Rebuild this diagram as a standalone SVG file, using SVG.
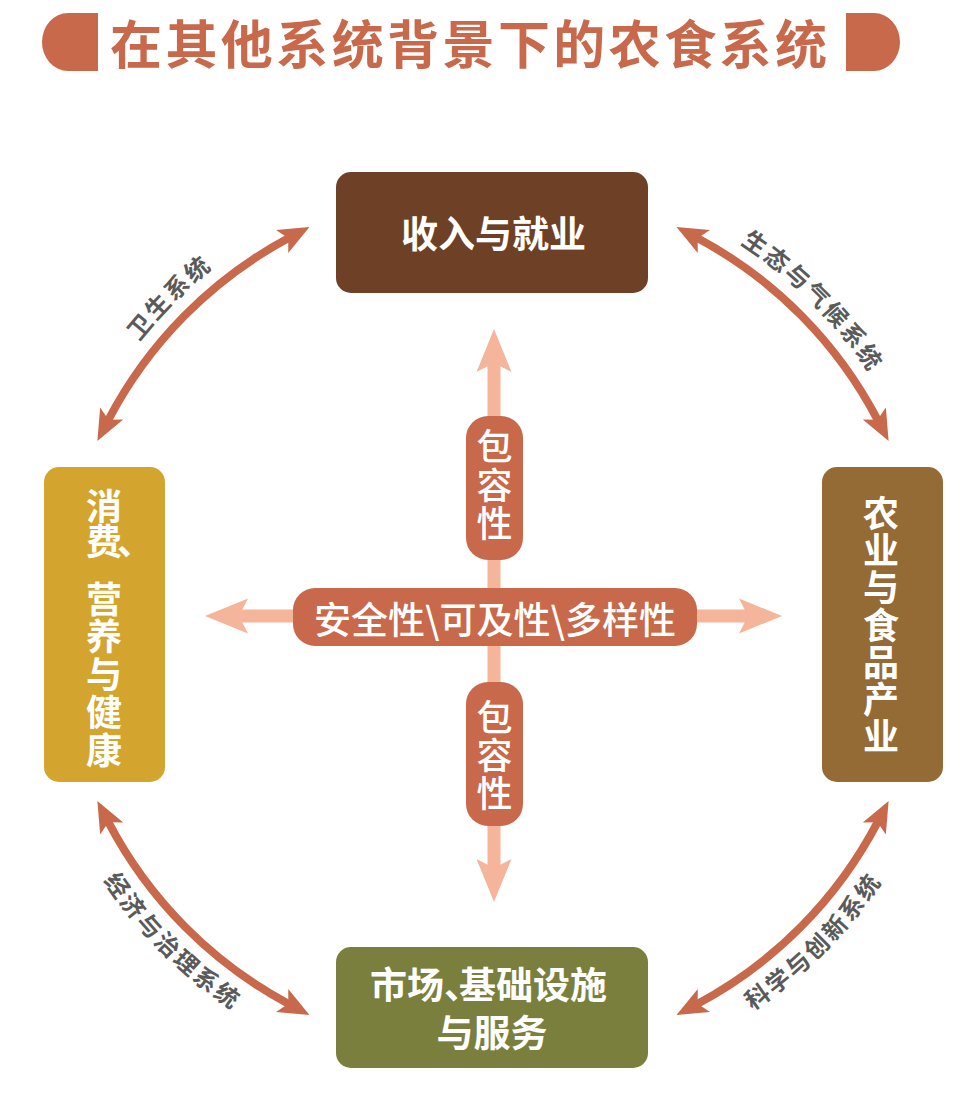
<svg xmlns="http://www.w3.org/2000/svg" width="964" height="1117" viewBox="0 0 964 1117">
<style>
.f{font-family:"Noto Sans CJK SC","Noto Sans CJK JP",sans-serif}
.title{font-size:52px;font-weight:bold;fill:#C8694B}
.node{font-size:36px;font-weight:bold;fill:#FFFFFF}
.mid{font-size:36px;font-weight:500;fill:#FFFFFF}
.lbl{font-size:24px;font-weight:bold;fill:#5A5A5A;letter-spacing:2.5px}
.arc{fill:none;stroke:#C8694B;stroke-width:8}
.cross{stroke:#F5B59B;stroke-width:13;fill:none}
.head{fill:#F5B59B}
.pill{fill:#C8694B}
</style>
<defs>
<marker id="ah" viewBox="0 -14 32 28" refX="8" refY="0" markerWidth="32" markerHeight="28" markerUnits="userSpaceOnUse" orient="auto-start-reverse">
<path d="M0,-13 L31,0 L0,13 L7,0 Z" fill="#C8694B"/>
</marker>
<path id="p-tl" d="M69.2,466.8 A451,451 0 0 1 338.8,197.2"/>
<path id="p-tr" d="M647.2,197.2 A451,451 0 0 1 916.8,466.8"/>
<path id="p-bl" d="M53.2,781.1 A468,468 0 0 0 332.9,1060.8"/>
<path id="p-br" d="M653.1,1060.8 A468,468 0 0 0 932.8,781.1"/>
</defs>
<rect width="964" height="1117" fill="#FFFFFF"/>

<g id="title">
<path d="M98,13 L68,13 A26,29 0 0 0 68,71 L98,71 Z" fill="#C8694B"/>
<path d="M846,13 L874,13 A26,29 0 0 1 874,71 L846,71 Z" fill="#C8694B"/>
<text class="f title" x="110" y="64" textLength="717" lengthAdjust="spacing">在其他系统背景下的农食系统</text>
</g>

<g id="connectors">
<path class="arc" d="M108.0,420.6 A434,434 0 0 1 289.2,237.8" marker-start="url(#ah)" marker-end="url(#ah)"/>
<path class="arc" d="M696.8,237.8 A434,434 0 0 1 878.0,420.6" marker-start="url(#ah)" marker-end="url(#ah)"/>
<path class="arc" d="M878.0,821.4 A434,434 0 0 1 696.8,1004.2" marker-start="url(#ah)" marker-end="url(#ah)"/>
<path class="arc" d="M289.2,1004.2 A434,434 0 0 1 108.0,821.4" marker-start="url(#ah)" marker-end="url(#ah)"/>
<text class="f lbl"><textPath href="#p-tl" startOffset="50%" text-anchor="middle">卫生系统</textPath></text>
<text class="f lbl"><textPath href="#p-tr" startOffset="50%" text-anchor="middle">生态与气候系统</textPath></text>
<text class="f lbl"><textPath href="#p-bl" startOffset="50%" text-anchor="middle">经济与治理系统</textPath></text>
<text class="f lbl"><textPath href="#p-br" startOffset="50%" text-anchor="middle">科学与创新系统</textPath></text>
</g>

<g id="cross">
<line class="cross" x1="494" y1="362" x2="494" y2="870"/>
<line class="cross" x1="238" y1="616" x2="750" y2="616"/>
<path class="head" d="M494,329 L511.5,372 L494,363 L476.5,372 Z"/>
<path class="head" d="M494,902 L511.5,859 L494,868 L476.5,859 Z"/>
<path class="head" d="M205,616 L248,598.5 L239,616 L248,633.5 Z"/>
<path class="head" d="M782,616 L739,598.5 L748,616 L739,633.5 Z"/>
</g>

<g id="inclusion-top">
<rect class="pill" x="466" y="416" width="57" height="144" rx="22"/>
<text class="f mid" x="494.5" y="444" text-anchor="middle" dominant-baseline="central">包</text>
<text class="f mid" x="494.5" y="483" text-anchor="middle" dominant-baseline="central">容</text>
<text class="f mid" x="494.5" y="521" text-anchor="middle" dominant-baseline="central">性</text>
</g>

<g id="center-pill">
<rect class="pill" x="293" y="588" width="404" height="58" rx="22"/>
<text class="f mid" x="495" y="618" text-anchor="middle" dominant-baseline="central" style="font-size:37px">安全性\可及性\多样性</text>
</g>

<g id="inclusion-bottom">
<rect class="pill" x="466" y="682" width="57" height="144" rx="22"/>
<text class="f mid" x="494.5" y="715" text-anchor="middle" dominant-baseline="central">包</text>
<text class="f mid" x="494.5" y="753" text-anchor="middle" dominant-baseline="central">容</text>
<text class="f mid" x="494.5" y="791" text-anchor="middle" dominant-baseline="central">性</text>
</g>

<g id="node-income">
<rect x="336" y="172" width="312" height="121" rx="15" fill="#6E4126"/>
<text class="f node" x="493.5" y="232" text-anchor="middle" dominant-baseline="central" style="font-size:37px">收入与就业</text>
</g>

<g id="node-consumption">
<rect x="44" y="467" width="121" height="315" rx="15" fill="#D4A52E"/>
<g class="f node" text-anchor="middle" dominant-baseline="central">
<text x="104" y="504">消</text>
<text x="104" y="539">费</text>
<text x="104" y="597">营</text>
<text x="104" y="634">养</text>
<text x="104" y="672">与</text>
<text x="104" y="710">健</text>
<text x="104" y="748">康</text>
</g>
<text class="f node" x="117" y="555">、</text>
</g>

<g id="node-agriculture">
<rect x="822" y="467" width="121" height="315" rx="15" fill="#946A35"/>
<g class="f node" text-anchor="middle" dominant-baseline="central">
<text x="881" y="511">农</text>
<text x="881" y="548">业</text>
<text x="881" y="585">与</text>
<text x="881" y="623">食</text>
<text x="881" y="660">品</text>
<text x="881" y="697">产</text>
<text x="881" y="734">业</text>
</g>
</g>

<g id="node-market">
<rect x="336" y="947" width="312" height="121" rx="15" fill="#7A7F3D"/>
<text class="f node" x="370" y="983" dominant-baseline="central" style="font-size:37px">市场、<tspan dx="-22">基础设施</tspan></text>
<text class="f node" x="492" y="1031" text-anchor="middle" dominant-baseline="central" style="font-size:37px">与服务</text>
</g>
</svg>
